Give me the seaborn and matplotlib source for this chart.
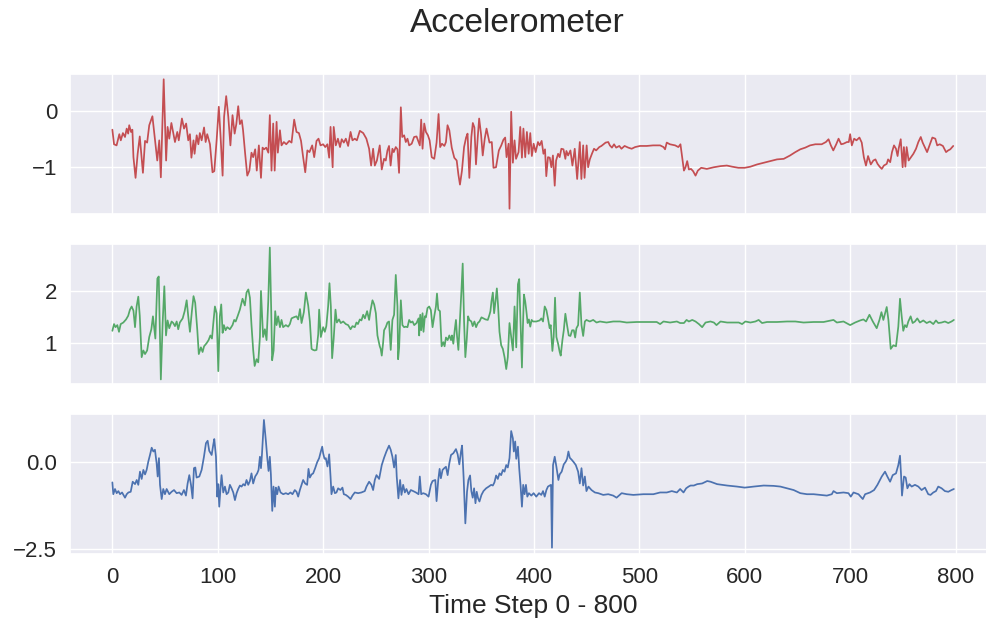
"""
Accelerometer 3축 시계열 (x / y / z) — 800 time step
"""
import matplotlib
matplotlib.use("Agg")
import matplotlib.pyplot as plt
import seaborn as sns

# ── 데이터 (그림에서 읽은 꼭짓점) ────────────────────────────────────────
RED_X = [
    0, 1.6, 4, 6.6, 8, 10, 12, 13.6, 15, 16, 17.7, 19, 20, 22, 24, 26, 29, 31, 33, 35,
    38, 40, 42.6, 44.5, 46, 48.7, 51, 52.4, 54, 56, 59.4, 61.6, 63, 66, 68, 70, 72, 73.6, 75, 77,
    78, 80, 81.6, 83, 84.7, 87, 88.5, 90, 92.6, 95, 96.7, 99, 101, 102.7, 104.6, 106, 108, 110, 112, 114,
    116, 117.6, 119.4, 121, 122.8, 124, 126, 128, 130, 132, 133.6, 135.5, 137, 139, 141, 142.5, 144, 146, 148, 149.4,
    151, 152.6, 154, 155.8, 157, 159, 160.5, 162.7, 165, 167.8, 170, 172.5, 174.7, 177, 179, 181, 183, 185, 187, 189.6,
    191.5, 193.7, 195.6, 197.5, 200, 202, 204, 205.7, 207, 209, 210, 212, 214, 216, 217.6, 219.6, 221.5, 223.7, 226, 227.8,
    230, 232, 234.8, 238, 241, 243.6, 245.5, 247.4, 249, 251,
    253.7, 255.6, 257.8, 259.4, 261, 262.5, 264, 265.7, 267, 268.9, 270.5, 272, 273.7, 275, 276.8, 278.4, 280, 281.6, 284, 286.3,
    288.6, 290.5, 291.7, 293, 294.3, 295.9, 297.5, 299.4, 301, 303, 305.4, 307.6, 309.5, 311, 312.7, 315, 316.5, 318, 319.7, 322,
    324.4, 326.7, 328.3, 329.8, 331.7, 333.7, 335.6, 337, 338.7, 340.6, 342, 343.5, 345, 346.7, 348, 349.8, 351.4, 353.3, 355, 357.8,
    360, 361.6, 364, 366.7, 369, 371, 372.7, 374, 375.9, 376.8, 378.4, 380, 381.6, 383, 385.4, 387, 388.6, 390, 391.7, 393.3,
    395, 396.5, 398, 399.7, 401.6, 403.8, 405.4, 407.3, 409, 410.5, 411.7, 413.3, 415, 416.5, 418, 419.7, 421, 422.9, 424.4, 426,
    428, 429.8, 430.8, 432.4, 434.6, 436.5, 438.7, 441, 443.5, 445, 446.7, 448, 450, 451.4, 453, 455, 457, 459, 462, 464,
    466, 468, 470.5, 472, 474, 476, 478, 481, 483, 486, 489.5, 492.7, 496, 500.6, 507, 513, 519.7, 522.9, 524.4, 526,
    529, 534, 537, 539,
    542.3, 543.8, 545.4, 547, 549, 551, 553.3, 555.5, 558.7, 564, 570.7, 577, 583, 588, 594, 600, 605.4, 611.7, 618, 624,
    630.6, 637, 643, 648, 652.7, 657.4, 662, 667, 673, 677, 679.5, 681.7, 684, 686.8, 689, 691.5, 693.7, 697, 698.7, 700,
    701.6, 703.8, 706, 708.8, 711, 713, 715, 717, 719.6, 722, 724, 726, 728, 730, 732, 734.7, 736, 738, 739.7, 741.6,
    743.5, 745, 746, 748, 749.8, 751, 752.4, 753.6, 755.5, 757.4, 760, 762.5, 764.7, 767, 768.8, 771, 773, 775.7, 778, 780.8,
    782.6, 785, 788, 791, 793, 795, 797.8,
]
RED_Y = [
    -0.34, -0.60, -0.62, -0.42, -0.53, -0.40, -0.47, -0.32, -0.41, -0.26, -0.38, -0.34, -0.83, -1.20, -0.77, -0.46, -1.11, -0.54, -0.57, -0.26,
    -0.10, -0.44, -0.89, -0.53, -1.19, 0.56, -0.89, -0.29, -0.50, -0.22, -0.56, -0.38, -0.53, -0.14, -0.32, -0.23, -0.53, -0.42, -0.84, -0.53,
    -0.77, -0.44, -0.60, -0.40, -0.53, -0.30, -0.56, -0.42, -0.60, -1.10, -1.08, -0.51, 0.07, -0.47, -1.16, -0.11, 0.26, -0.11, -0.62, -0.08,
    -0.41, -0.24, 0.08, -0.24, -0.17, -0.35, -0.77, -1.16, -1.07, -0.75, -0.83, -0.69, -1.07, -0.62, -1.20, -0.66, -0.69, -0.66, -0.75, -0.08,
    -1.07, -0.23, -1.07, -0.20, -0.75, -0.35, -0.62, -0.56, -0.60, -0.54, -0.57, -0.16, -0.38, -0.40, -0.54, -0.83, -1.10, -0.71, -0.74, -0.62,
    -0.83, -0.54, -0.50, -0.62, -0.60, -0.65, -0.60, -0.84, -0.29, -1.01, -0.29, -0.62, -0.50, -0.65, -0.51, -0.57, -0.50, -0.63, -0.38, -0.53,
    -0.50, -0.53, -0.36, -0.40, -0.50, -0.68, -0.98, -0.68, -0.98, -0.89,
    -0.62, -1.05, -0.86, -0.89, -0.71, -0.63, -0.98, -0.68, -0.74, -0.65, -0.69, -1.11, 0.06, -0.47, -0.44, -0.56, -0.50, -0.62, -0.59, -0.47,
    -0.46, -0.56, -0.62, -0.16, -0.68, -0.23, -0.38, -0.44, -0.53, -0.83, -0.86, -0.57, -0.06, -0.65, -0.59, -0.63, -0.56, -0.26, -0.35, -0.66,
    -0.84, -0.89, -1.14, -1.32, -1.07, -0.65, -0.48, -0.41, -1.20, -0.47, -0.22, -0.30, -0.96, -0.47, -0.14, -0.42, -0.80, -0.50, -0.32, -0.57,
    -0.56, -1.02, -1.01, -0.71, -0.62, -0.52, -0.48, -0.83, -0.59, -1.75, -0.02, -0.93, -0.53, -0.86, -0.74, -0.29, -0.84, -0.32, -0.83, -0.38,
    -0.77, -0.40, -0.81, -0.59, -0.74, -0.56, -0.62, -0.54, -0.77, -0.69, -1.17, -0.83, -0.84, -1.01, -0.80, -1.34, -0.89, -0.77, -0.83, -0.68,
    -0.69, -0.86, -0.72, -0.80, -0.71, -0.98, -0.68, -1.22, -0.56, -1.22, -0.62, -1.20, -0.62, -1.01, -0.87, -0.77, -0.68, -0.71, -0.65, -0.63,
    -0.60, -0.57, -0.56, -0.62, -0.66, -0.60, -0.66, -0.63, -0.68, -0.63, -0.66, -0.68, -0.65, -0.63, -0.63, -0.62, -0.62, -0.65, -0.69, -0.57,
    -0.60, -0.62, -0.65, -0.60,
    -1.07, -1.01, -0.90, -1.05, -1.04, -1.08, -1.16, -1.07, -1.02, -1.04, -1.01, -0.99, -0.98, -1.00, -1.02, -1.02, -1.00, -0.96, -0.93, -0.90,
    -0.87, -0.86, -0.80, -0.74, -0.69, -0.66, -0.62, -0.60, -0.60, -0.56, -0.51, -0.62, -0.71, -0.60, -0.50, -0.60, -0.59, -0.56, -0.56, -0.42,
    -0.62, -0.50, -0.53, -0.48, -0.57, -0.83, -0.98, -0.81, -0.96, -0.89, -0.87, -0.95, -1.00, -1.04, -0.98, -0.95, -0.87, -0.92, -0.74, -0.62,
    -0.68, -0.81, -0.68, -0.51, -1.01, -0.65, -1.00, -0.65, -0.89, -0.84, -0.77, -0.68, -0.56, -0.47, -0.57, -0.66, -0.74, -0.60, -0.48, -0.50,
    -0.62, -0.60, -0.63, -0.74, -0.71, -0.69, -0.63,
]

GREEN_X = [
    0, 1.6, 3, 4.7, 6.3, 7.9, 10.4, 13, 15, 16.7, 18.3, 20, 21.5, 23, 24.6, 26, 27.8, 29.4, 31, 33,
    35, 37, 38.5, 40.8, 42.7, 44, 44.9, 46, 47.7, 49.3, 50.9, 52.4, 54, 56.2, 57.8, 59.4, 61, 62.5, 64, 66.7,
    68.6, 70.5, 72, 73.6, 75.5, 77, 78.6, 80.6, 82, 84, 85.6, 87, 89.4, 91.3, 93, 94.5, 95.7, 97.3, 98.9, 100.5,
    102, 103.3, 104.6, 105.8, 107.4, 109, 111.5, 114, 115.6, 117, 118.8, 121, 123.5, 125.7, 127.3, 129, 130.5, 132, 133.6, 135,
    136.8, 138.4, 140, 141, 143, 144.7, 146.3, 147.9, 149.4, 150.7, 151.6, 153, 154.5, 155.8, 157.3, 159, 160.5, 162, 164.6, 166.8,
    168.4, 170, 172, 174.7, 176.3, 178, 179.5, 181.7, 183.6, 185.8, 187.4, 189, 190.5, 192, 193.7, 195.3, 196.2, 197.8, 200, 201.6,
    203, 204.7, 206, 207.3, 208.5, 210, 211.7, 213, 215, 216.7, 219, 221.5, 223.7, 226, 227.8, 230, 231.6, 233, 234.8, 236.3,
    238, 239.6, 241.7, 243.6, 244.9, 246.8, 248.4, 250, 251.5, 253.7,
    254.6, 255.6, 256.8, 257.8, 259.4, 261, 262.5, 264.1, 265.7, 267.3, 268.9, 270.5, 271.1, 272.1, 273.7, 275.2, 276.8, 278.4, 280, 281.6,
    283.2, 284.8, 286.4, 288.6, 290.5, 291.1, 292.1, 293, 294.3, 295.2, 296.5, 297.5, 299, 300.6, 302.2, 303.8, 305.4, 307, 308, 309.2,
    310.8, 312.4, 314, 315.2, 316.5, 318.1, 319.7, 321.3, 322.2, 323.5, 324.8, 326, 327, 328.3, 329.9, 331.1, 332.4, 333.7, 334.9, 336.2,
    337.5, 338.7, 340.6, 341.9, 343.5, 345.1, 346.7, 348.3, 350.2, 352.1, 354, 356.2, 357.8, 358.7, 359.7, 361, 362.2, 363.5, 364.8, 366,
    367.3, 368.9, 370.5, 372.1, 373.7, 375.2, 376.8, 378.4, 380, 381.6, 383.2, 384.8, 386, 387.3, 388.6, 389.5, 390.5, 391.7, 392.7, 394,
    395.2, 396.5, 397.8, 399.1, 402.2, 405.4, 407, 408.6, 410.2, 411.8, 413.3, 414.9, 415.9, 417.5, 418.7, 420, 421.3, 422.9, 424.4, 425.4,
    427, 428.3, 429.8, 431.4, 433, 434.6, 436.2, 437.8, 439.1, 440.3, 441.9, 443.5, 445.1, 446.7, 448.3, 449.8, 453, 456.2, 459.4, 462.6,
    468.9, 475.2, 481.6, 488, 497.5, 507, 516.5, 519.7, 522.9, 529.2, 535.6, 538.7,
    542.3, 544.8, 547, 550.2, 553.3, 556.5, 559.6, 562.8, 567.5, 570.7, 573.2, 577, 583.3, 589.6, 594.3, 597.5, 600.6, 605.4, 610.1, 613.2,
    616.4, 621.1, 630.6, 640.1, 648, 655.8, 665.3, 674.8, 684.2, 687.4, 693.7, 700, 704.7, 709.5, 712.6, 715.1, 718.3, 721.5, 725.2, 727.8,
    729.7, 731.5, 734.7, 736.3, 738.5, 741, 743.5, 745.7, 747.3, 748.9, 750.4, 752, 753.6, 755.2, 757.4, 759.3, 761.5, 763.7, 766.2, 769.4,
    772.6, 775.7, 778.9, 781.4, 783.6, 786.8, 789.9, 793.1, 796.2, 798.4,
]
GREEN_Y = [
    1.23, 1.36, 1.30, 1.34, 1.21, 1.36, 1.39, 1.45, 1.52, 1.64, 1.70, 1.62, 1.30, 1.70, 1.89, 1.52, 0.72, 0.85, 0.78, 0.85,
    1.11, 1.26, 1.51, 1.08, 2.24, 2.28, 1.34, 0.29, 1.38, 2.09, 1.14, 1.43, 1.28, 1.41, 1.38, 1.32, 1.41, 1.26, 1.39, 1.47,
    1.61, 1.82, 1.51, 1.21, 1.62, 1.90, 1.77, 1.24, 0.78, 0.91, 0.82, 0.93, 0.99, 1.05, 1.14, 1.08, 1.36, 1.70, 1.57, 0.45,
    1.51, 1.74, 1.19, 1.34, 1.24, 1.30, 1.26, 1.34, 1.44, 1.41, 1.51, 1.64, 1.85, 1.72, 1.97, 2.03, 1.87, 1.34, 0.86, 0.55,
    0.68, 0.62, 1.11, 2.00, 1.11, 1.26, 1.05, 1.80, 2.84, 1.64, 0.66, 0.85, 1.61, 1.34, 1.51, 1.30, 1.44, 1.30, 1.34, 1.31,
    1.36, 1.47, 1.49, 1.51, 1.45, 1.65, 1.38, 1.59, 1.97, 1.72, 1.41, 0.88, 0.86, 0.85, 0.86, 1.16, 1.64, 1.11, 1.30, 1.21,
    1.32, 1.70, 2.15, 1.70, 0.70, 1.08, 1.64, 1.39, 1.45, 1.38, 1.41, 1.36, 1.34, 1.26, 1.32, 1.30, 1.39, 1.36, 1.45, 1.43,
    1.54, 1.47, 1.61, 1.44, 1.62, 1.82, 1.74, 1.57, 1.14, 0.93,
    0.88, 0.75, 0.98, 1.24, 1.30, 1.39, 1.41, 0.86, 1.44, 1.54, 2.31, 1.70, 0.68, 0.91, 1.82, 1.34, 1.30, 1.31, 1.30, 1.44,
    1.39, 1.41, 1.34, 1.38, 1.47, 1.14, 1.54, 1.24, 1.57, 1.21, 1.51, 1.49, 1.67, 1.70, 1.63, 1.30, 1.51, 1.70, 1.95, 1.64,
    1.61, 0.93, 1.01, 0.93, 1.10, 1.05, 1.14, 1.05, 1.14, 0.98, 1.24, 1.44, 1.13, 0.86, 1.49, 1.97, 2.53, 1.41, 0.72, 1.05,
    1.51, 1.44, 1.41, 1.32, 1.41, 1.30, 1.38, 1.41, 1.49, 1.47, 1.45, 1.44, 1.54, 1.61, 1.80, 1.97, 1.57, 1.80, 2.05, 1.70,
    1.21, 0.95, 0.88, 0.72, 0.49, 0.72, 1.38, 1.11, 0.85, 1.70, 0.91, 2.13, 2.23, 1.38, 0.52, 1.28, 1.93, 1.80, 1.63, 1.38,
    1.45, 1.31, 1.44, 1.41, 1.41, 1.43, 1.47, 1.41, 1.70, 1.63, 1.47, 1.28, 1.34, 0.84, 1.11, 1.87, 1.11, 0.98, 0.82, 0.75,
    1.05, 1.24, 1.56, 1.34, 1.14, 1.13, 1.24, 1.24, 1.10, 1.28, 1.34, 1.97, 1.34, 1.13, 1.41, 1.44, 1.41, 1.44, 1.39, 1.41,
    1.39, 1.41, 1.41, 1.39, 1.40, 1.40, 1.40, 1.36, 1.41, 1.39, 1.41, 1.38,
    1.38, 1.44, 1.41, 1.44, 1.41, 1.36, 1.30, 1.39, 1.41, 1.39, 1.34, 1.41, 1.39, 1.39, 1.39, 1.36, 1.41, 1.39, 1.41, 1.44,
    1.38, 1.40, 1.40, 1.41, 1.41, 1.39, 1.40, 1.40, 1.44, 1.39, 1.41, 1.34, 1.39, 1.43, 1.45, 1.41, 1.54, 1.41, 1.28, 1.44,
    1.59, 1.44, 1.69, 1.44, 0.88, 0.95, 0.93, 1.31, 1.85, 1.51, 1.23, 1.34, 1.30, 1.41, 1.51, 1.38, 1.41, 1.47, 1.39, 1.43,
    1.38, 1.41, 1.36, 1.43, 1.38, 1.39, 1.41, 1.38, 1.41, 1.44,
]

BLUE_X = [
    0, 0.9, 2.5, 4.1, 5.7, 7.3, 9.2, 12, 13.6, 15.2, 17.4, 19.3, 21.5, 23.1, 24.6, 26.2, 27.8, 29.4, 31, 32.5,
    34.1, 35.7, 37.3, 38.9, 40.4, 42, 43, 44.2, 45.2, 46.8, 48.3, 49.9, 51.5, 54, 56.2, 58.5, 61, 63.5, 65.7, 67.9,
    69.8, 71.4, 73, 74.6, 76.1, 77.4, 78.7, 79.9, 82.5, 84.7, 86.9, 88.8, 90.4, 91.9, 94.2, 95.7, 96.7, 98.3, 99.5, 100.5,
    101.4, 102.7, 103.6, 105.2, 106.8, 108.4, 110, 111.5, 113.1, 114.7, 116.3, 117.9, 119.4, 121, 122.6, 124.2, 125.8, 127.3, 128.9, 130.5,
    132, 133.6, 135.5, 137.4, 138.7, 140, 141, 141.9, 143.8, 145.7, 147, 148.2, 149.4, 150.4, 151.7, 152.9, 154.2, 155.1, 156.4, 157.7,
    159.6, 162.1, 164.6, 166.8, 169, 170.9, 173.1, 174.7, 176.3, 177.9, 179.5, 181, 182.9, 184.8, 186.1, 187.4, 189, 190.5, 192.4, 194.3,
    196.2, 197.8, 199.1, 200, 201.3, 202.5, 204.1, 205.7, 207, 207.9, 209.5, 211.1, 212.6, 214.2, 216.4, 218.3, 219.6, 221.5, 223.7, 226,
    227.8, 230, 233.2, 236.3, 239.5, 241.1, 243.6, 245.8, 247.4, 249, 250.6, 253.1,
    255.6, 257.8, 260, 262.5, 264.1, 265.7, 267.3, 268.9, 269.8, 271.4, 273, 274.3, 275.9, 277.5, 279, 281, 283.2, 285.4, 288, 290.5,
    291.7, 293, 294.9, 297.5, 300, 302.2, 303.8, 306.4, 307.6, 309.2, 310.5, 311.7, 313.3, 314.9, 316.5, 318.1, 319.7, 321.3, 323.5, 326,
    327.6, 329.2, 330.8, 331.8, 333.3, 334.9, 336.5, 337.8, 339.4, 340.6, 341.9, 343.2, 344.5, 345.7, 347, 348.3, 350.2, 352.1, 354.6, 357.1,
    359.4, 361, 362.5, 364.1, 365.7, 367.3, 368.9, 370.5, 372.1, 373.7, 375.2, 376.8, 378.4, 380, 380.9, 382.2, 383.2, 384.8, 386, 387.3,
    388.6, 389.8, 391.1, 392.4, 393.7, 395.2, 397.5, 399.7, 402.2, 404.8, 407, 408.6, 410.2, 411.8, 413.3, 414.9, 416.2, 417.1, 418.1, 419.7,
    421.3, 423.2, 424.4, 426.3, 428.3, 430.2, 431.4, 432.7, 434, 435.9, 437.8, 439.7, 441.9, 443.5, 445.1, 446.7, 448.3, 449.8, 451.7, 454.6,
    457.8, 461, 465.7, 470.5, 475.2, 478.4, 483.2, 488, 494.3, 503.8, 513.3, 519.7, 526, 530.8, 535.6, 538.7, 541.9, 544.4, 546.7,
    548.6, 551.7, 554.9, 559.6, 564.4, 567.5, 573.8, 583.3, 592.7, 600, 608.5, 618, 627.4, 633.8, 640.1, 646.4, 652.7, 659, 665.3, 671.6,
    677.9, 682.6, 684.2, 687.4, 693.7, 698.4, 700.6, 703.2, 707.9, 712, 714.2, 718.9, 722.7, 725.9, 730, 733.1, 735.3, 737.9, 740.4, 743.5,
    745.7, 747.3, 748.3, 749.2, 751.1, 752.7, 754.3, 756.2, 758.4, 761.5, 764.7, 767.8, 771, 774.1, 776.3, 778.9, 781.4, 783.6, 786.8, 789.9,
    793.1, 796.2, 798.4,
]
BLUE_Y = [
    -0.58, -0.92, -0.77, -0.89, -0.83, -0.92, -0.87, -1.02, -0.92, -0.87, -0.85, -0.56, -0.63, -0.51, -0.65, -0.27, -0.48, -0.22, -0.35, -0.22,
    0.02, 0.21, 0.42, 0.31, 0.36, -0.03, -0.41, 0.12, -0.65, -1.06, -0.77, -0.92, -0.77, -0.92, -0.85, -0.80, -0.89, -0.87, -0.94, -0.80,
    -0.96, -0.61, -0.37, -0.65, -1.04, -0.17, -0.15, -0.44, -0.41, -0.22, 0.16, 0.55, 0.62, 0.33, 0.21, 0.50, 0.67, 0.16, -0.99, -0.63,
    -1.28, -0.70, -0.37, -0.87, -0.70, -0.92, -0.87, -0.65, -0.75, -0.87, -1.09, -0.89, -0.77, -0.67, -0.70, -0.63, -0.67, -0.51, -0.65, -0.54,
    -0.32, -0.61, -0.41, -0.32, -0.22, 0.16, -0.17, 0.21, 1.22, 0.60, 0.12, -0.25, 0.16, -0.35, -1.40, -0.70, -1.28, -0.73, -0.92, -0.70,
    -0.87, -0.92, -0.89, -0.92, -0.87, -0.92, -0.80, -0.85, -0.99, -0.80, -0.65, -0.51, -0.61, -0.65, -0.19, -0.44, -0.35, -0.32, -0.17, 0.00,
    0.12, 0.31, 0.45, 0.26, 0.10, 0.12, -0.12, 0.23, -0.41, -0.92, -0.70, -0.89, -0.87, -0.75, -0.80, -0.73, -0.92, -0.94, -0.99, -1.06,
    -0.96, -0.87, -0.89, -0.87, -0.83, -0.70, -0.56, -0.65, -0.80, -0.51, -0.37, -0.48,
    -0.08, 0.13, 0.31, 0.48, 0.36, 0.16, -0.15, 0.21, -0.41, -1.04, -0.51, -0.94, -0.65, -0.87, -0.77, -0.92, -0.80, -0.83, -0.87, -0.92,
    -0.41, -0.92, -0.89, -0.92, -0.99, -0.65, -0.54, -0.51, -1.12, -0.51, -0.19, -0.46, -0.22, -0.17, -0.13, -0.37, -0.03, 0.21, 0.26, 0.38,
    0.23, -0.06, 0.31, 0.48, -0.46, -1.76, -0.85, -0.51, -0.38, -0.83, -1.02, -0.75, -1.18, -0.85, -1.04, -1.13, -0.94, -0.83, -0.75, -0.70,
    -0.65, -0.67, -0.58, -0.38, -0.48, -0.32, -0.37, -0.22, -0.27, -0.08, -0.15, 0.12, 0.90, 0.69, 0.31, 0.60, 0.10, 0.45, -0.17, -0.67,
    -1.28, -0.65, -0.92, -0.65, -0.99, -0.89, -0.96, -0.89, -0.99, -0.89, -0.94, -0.83, -0.99, -0.80, -0.70, -0.67, -0.65, -2.46, -0.08, 0.16,
    -0.13, -0.51, -0.35, -0.27, -0.06, 0.02, 0.10, 0.31, 0.13, 0.07, 0.00, -0.08, -0.27, -0.61, -0.17, -0.67, -0.41, -0.83, -0.70, -0.80,
    -0.87, -0.89, -0.94, -0.92, -0.96, -1.02, -0.89, -0.92, -0.94, -0.92, -0.92, -0.87, -0.87, -0.83, -0.87, -0.77, -0.87, -0.75, -0.70,
    -0.67, -0.67, -0.63, -0.61, -0.54, -0.56, -0.63, -0.67, -0.70, -0.73, -0.70, -0.67, -0.68, -0.70, -0.75, -0.80, -0.89, -0.92, -0.92, -0.94,
    -0.96, -0.92, -0.83, -0.89, -0.87, -0.89, -0.99, -0.87, -0.92, -1.06, -0.92, -0.87, -0.80, -0.65, -0.41, -0.27, -0.41, -0.56, -0.37, -0.32,
    -0.08, 0.19, -0.37, -0.96, -0.41, -0.44, -0.75, -0.63, -0.70, -0.65, -0.70, -0.80, -0.73, -0.92, -0.94, -0.87, -0.83, -0.70, -0.75, -0.83,
    -0.85, -0.80, -0.77,
]

SERIES = [(RED_X, RED_Y), (GREEN_X, GREEN_Y), (BLUE_X, BLUE_Y)]
COLORS = ["#c44e52", "#55a868", "#4c72b0"]
Y_TICKS = [[-1, 0], [1, 2], [-2.5, 0.0]]
Y_LIMS = [(-1.845, 0.655), (0.201, 2.909), (-2.643, 1.392)]
X_TICKS = [0, 100, 200, 300, 400, 500, 600, 700, 800]


def main():
    sns.set_theme(style="darkgrid")
    plt.rcParams["font.family"] = ["Liberation Sans", "DejaVu Sans"]

    fig, axes = plt.subplots(3, 1, figsize=(9.86, 6.19), dpi=100, sharex=True)
    fig.subplots_adjust(left=0.0712, right=1.0108, top=0.8805, bottom=0.105, hspace=0.214)

    for ax, (xs, ys), color, yt, yl in zip(axes, SERIES, COLORS, Y_TICKS, Y_LIMS):
        sns.lineplot(x=xs, y=ys, ax=ax, color=color, linewidth=1.25)
        ax.set_yticks(yt)
        ax.set_ylim(yl)
        ax.tick_params(axis="both", labelsize=16)

    axes[0].set_xlim(-40, 839)
    axes[-1].set_xticks(X_TICKS)
    axes[-1].set_xlabel("Time Step 0 - 800", fontsize=19)
    # 원본 그림은 오른쪽이 잘려 있어서 제목 중심이 약간 오른쪽
    fig.suptitle("Accelerometer", fontsize=24, x=0.525, y=0.962, va="center")

    fig.savefig("out.png", dpi=100)
    plt.close(fig)


if __name__ == "__main__":
    main()
